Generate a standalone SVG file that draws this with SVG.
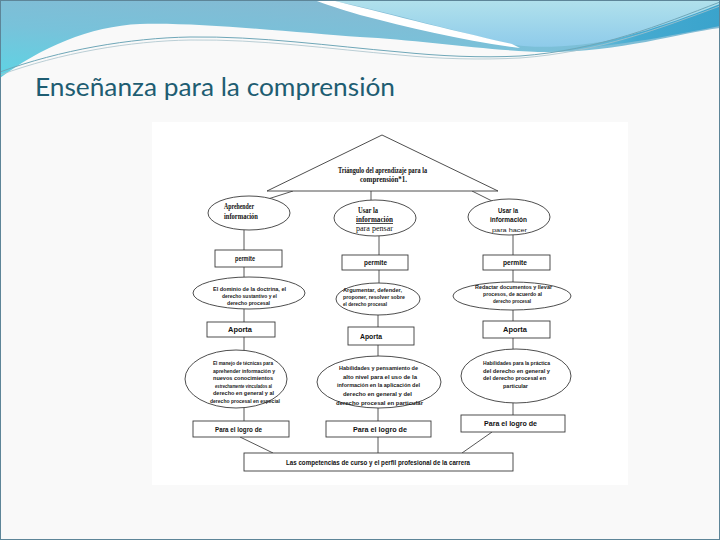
<svg xmlns="http://www.w3.org/2000/svg" width="720" height="540" viewBox="0 0 720 540">
<defs>
<linearGradient id="band" x1="0" y1="1" x2="0.6" y2="0">
<stop offset="0" stop-color="#5dd4e4"/>
<stop offset="0.5" stop-color="#78c2da"/>
<stop offset="1" stop-color="#86b9d2"/>
</linearGradient>
<linearGradient id="light" x1="0" y1="0" x2="0" y2="1">
<stop offset="0" stop-color="#b1e1ec"/>
<stop offset="1" stop-color="#8ecbea"/>
</linearGradient>
<linearGradient id="dark" x1="0" y1="0" x2="1" y2="0">
<stop offset="0" stop-color="#5fc0dc" stop-opacity="0.2"/>
<stop offset="0.5" stop-color="#45aad0"/>
<stop offset="1" stop-color="#3aa3cc"/>
</linearGradient>
<style>
.shape{fill:#ffffff;stroke:#3a3a3a;stroke-width:0.9}
.conn{stroke:#444;stroke-width:0.9;fill:none}
.ser{font-family:"Liberation Serif",serif;font-weight:bold;font-size:7.5px;fill:#111}
.sn{font-family:"Liberation Sans",Arial,sans-serif;font-weight:bold;font-size:6px;fill:#1a1a1a}
.lb{font-family:"Liberation Sans",Arial,sans-serif;font-weight:bold;font-size:6.5px;fill:#111}
.m{text-anchor:middle}
.nw{font-weight:normal}
</style>
</defs>
<rect x="0" y="0" width="720" height="540" fill="#f9f9f9"/>
<g id="header">
<path d="M0,0 H720 V28 C680,33 620,52 547,52 C500,52 420,40 360,37 C300,33 200,22 140,24 C90,26 40,48 0,78 Z" fill="url(#band)"/>
<path d="M330,0 C400,15 460,33 515,45 C560,52 650,38 720,12 V0 Z" fill="url(#light)"/>
<path d="M314,0 L331,0 C380,12 450,30 512,44 L520,48 C470,42 410,28 360,15 C340,9 325,4 314,0 Z" fill="#ffffff"/>
<path d="M555,51 C620,42 680,20 720,4 V26 C680,34 620,46 555,51 Z" fill="url(#dark)"/>
<path d="M0,72 C60,50 130,38 190,37 C260,36 330,46 400,52 C440,56 480,58 520,56 C600,50 660,25 720,2" fill="none" stroke="#6fa7b8" stroke-width="1"/>
<path d="M0,75 C60,53 130,41 190,40 C260,39 330,49 400,55 C440,59 480,60 520,58 C600,52 660,28 720,6" fill="none" stroke="#a9c3cb" stroke-width="0.8"/>
</g>
<rect x="0.5" y="0.5" width="719" height="539" fill="none" stroke="#5d8598" stroke-width="1"/>
<text x="35" y="96" font-family="Lato,'Open Sans',sans-serif" font-size="25" fill="#1e5d72" textLength="360" lengthAdjust="spacingAndGlyphs">Enseñanza para la comprensión</text>
<rect x="152" y="122" width="476" height="363" fill="#ffffff"/>
<g id="connectors">
<line class="conn" x1="293" y1="191" x2="268" y2="199"/>
<line class="conn" x1="371" y1="191" x2="371" y2="200"/>
<line class="conn" x1="472" y1="191" x2="492" y2="201"/>
<line class="conn" x1="244" y1="230" x2="244" y2="250"/>
<line class="conn" x1="244" y1="267" x2="244" y2="277"/>
<line class="conn" x1="244" y1="309" x2="244" y2="322"/>
<line class="conn" x1="244" y1="337" x2="244" y2="350"/>
<line class="conn" x1="244" y1="408" x2="244" y2="421"/>
<line class="conn" x1="379" y1="236" x2="379" y2="255"/>
<line class="conn" x1="379" y1="270" x2="379" y2="283"/>
<line class="conn" x1="378" y1="315" x2="378" y2="327"/>
<line class="conn" x1="378" y1="345" x2="378" y2="356"/>
<line class="conn" x1="378" y1="408" x2="378" y2="421"/>
<line class="conn" x1="378" y1="437" x2="378" y2="453"/>
<line class="conn" x1="513" y1="235" x2="513" y2="255"/>
<line class="conn" x1="513" y1="270" x2="513" y2="282"/>
<line class="conn" x1="513" y1="310" x2="513" y2="321"/>
<line class="conn" x1="513" y1="338" x2="513" y2="349"/>
<line class="conn" x1="513" y1="403" x2="513" y2="415"/>
<line class="conn" x1="240" y1="437" x2="273" y2="453"/>
<line class="conn" x1="492" y1="432" x2="462" y2="453"/>
</g>
<g id="triangulo">
<polygon class="shape" points="382,135 267,191 498,191"/>
<text class="ser m" x="382.5" y="173" font-size="7" textLength="89" lengthAdjust="spacingAndGlyphs">Triángulo del aprendizaje para la</text>
<text class="ser m" x="383.5" y="182" font-size="7" textLength="47" lengthAdjust="spacingAndGlyphs">comprensión*1.</text>
</g>
<g id="aprehender">
<ellipse class="shape" cx="249" cy="213" rx="41" ry="17"/>
<text class="ser" x="224" y="209" textLength="30" lengthAdjust="spacingAndGlyphs">Aprehender</text>
<text class="ser" x="224" y="219" textLength="34" lengthAdjust="spacingAndGlyphs">información</text>
</g>
<g id="usar-pensar">
<ellipse class="shape" cx="375" cy="218" rx="41" ry="18"/>
<text class="ser m" x="368" y="213" textLength="20" lengthAdjust="spacingAndGlyphs">Usar la</text>
<text class="ser m" x="374.5" y="222" textLength="37" lengthAdjust="spacingAndGlyphs" text-decoration="underline">información</text>
<text class="ser m nw" x="374.5" y="231" textLength="37" lengthAdjust="spacingAndGlyphs">para pensar</text>
</g>
<g id="usar-hacer">
<ellipse class="shape" cx="509" cy="217" rx="41" ry="18"/>
<text class="lb m" x="508" y="213" textLength="20" lengthAdjust="spacingAndGlyphs">Usar la</text>
<text class="lb m" x="508.5" y="222" textLength="37" lengthAdjust="spacingAndGlyphs">información</text>
<text class="sn m nw" x="509.5" y="232" font-size="6.5" textLength="35" lengthAdjust="spacingAndGlyphs">para hacer</text>
</g>
<g id="permite-1">
<rect class="shape" x="215" y="250" width="67" height="17"/>
<text class="lb m" x="245" y="261" textLength="20" lengthAdjust="spacingAndGlyphs">permite</text>
</g>
<g id="permite-2">
<rect class="shape" x="342" y="255" width="66" height="15"/>
<text class="lb m" x="375.5" y="264.5" textLength="23" lengthAdjust="spacingAndGlyphs">permite</text>
</g>
<g id="permite-3">
<rect class="shape" x="483" y="255" width="67" height="15"/>
<text class="lb m" x="515" y="264.5" textLength="24" lengthAdjust="spacingAndGlyphs">permite</text>
</g>
<g id="dominio">
<ellipse class="shape" cx="249" cy="293" rx="56" ry="16"/>
<text class="sn m" x="249.5" y="291" textLength="73" lengthAdjust="spacingAndGlyphs">El dominio de la doctrina, el</text>
<text class="sn m" x="249.5" y="298" textLength="55" lengthAdjust="spacingAndGlyphs">derecho sustantivo y el</text>
<text class="sn m" x="248.5" y="305" textLength="43" lengthAdjust="spacingAndGlyphs">derecho procesal</text>
</g>
<g id="argumentar">
<ellipse class="shape" cx="378" cy="299" rx="42" ry="16"/>
<text class="sn" x="343" y="292" textLength="59" lengthAdjust="spacingAndGlyphs">Argumentar, defender,</text>
<text class="sn" x="343" y="299" textLength="62" lengthAdjust="spacingAndGlyphs">proponer, resolver sobre</text>
<text class="sn" x="343" y="306" textLength="44" lengthAdjust="spacingAndGlyphs">el derecho procesal</text>
</g>
<g id="redactar">
<ellipse class="shape" cx="512" cy="296" rx="59" ry="14"/>
<text class="sn m" x="513.5" y="289" textLength="77" lengthAdjust="spacingAndGlyphs">Redactar documentos y llevar</text>
<text class="sn m" x="512.5" y="296" textLength="59" lengthAdjust="spacingAndGlyphs">procesos, de acuerdo al</text>
<text class="sn m" x="512" y="303" textLength="38" lengthAdjust="spacingAndGlyphs">derecho procesal</text>
</g>
<g id="aporta-1">
<rect class="shape" x="207" y="322" width="68" height="15"/>
<text class="lb m" x="240" y="332" textLength="24" lengthAdjust="spacingAndGlyphs">Aporta</text>
</g>
<g id="aporta-2">
<rect class="shape" x="348" y="327" width="66" height="18"/>
<text class="lb m" x="371" y="338.5" textLength="22" lengthAdjust="spacingAndGlyphs">Aporta</text>
</g>
<g id="aporta-3">
<rect class="shape" x="483" y="321" width="67" height="17"/>
<text class="lb m" x="515" y="331.5" textLength="24" lengthAdjust="spacingAndGlyphs">Aporta</text>
</g>
<g id="manejo">
<ellipse class="shape" cx="236" cy="379" rx="51" ry="29"/>
<text class="sn m" x="243" y="365" textLength="60" lengthAdjust="spacingAndGlyphs">El manejo de técnicas para</text>
<text class="sn m" x="244" y="372.5" textLength="62" lengthAdjust="spacingAndGlyphs">aprehender información y</text>
<text class="sn m" x="243" y="380" textLength="60" lengthAdjust="spacingAndGlyphs">nuevos conocimientos</text>
<text class="sn m" x="243.5" y="387.5" textLength="57" lengthAdjust="spacingAndGlyphs">estrechamente vinculados al</text>
<text class="sn m" x="243.5" y="395" textLength="61" lengthAdjust="spacingAndGlyphs">derecho en general y al</text>
<text class="sn m" x="245" y="402.5" textLength="70" lengthAdjust="spacingAndGlyphs">derecho procesal en especial</text>
</g>
<g id="habilidades-pensamiento">
<ellipse class="shape" cx="379" cy="382" rx="62" ry="26"/>
<text class="sn m" x="378.5" y="370" textLength="79" lengthAdjust="spacingAndGlyphs">Habilidades y pensamiento de</text>
<text class="sn m" x="380" y="378.5" textLength="74" lengthAdjust="spacingAndGlyphs">alto nivel para el uso de la</text>
<text class="sn m" x="378.5" y="387" textLength="83" lengthAdjust="spacingAndGlyphs">información en la aplicación del</text>
<text class="sn m" x="377.5" y="395.5" textLength="69" lengthAdjust="spacingAndGlyphs">derecho en general y del</text>
<text class="sn m" x="379.5" y="404.5" textLength="87" lengthAdjust="spacingAndGlyphs">derecho procesal en particular</text>
</g>
<g id="habilidades-practica">
<ellipse class="shape" cx="516" cy="376" rx="55" ry="27"/>
<text class="sn m" x="516.5" y="365" textLength="67" lengthAdjust="spacingAndGlyphs">Habilidades para la práctica</text>
<text class="sn m" x="516.5" y="372.5" textLength="67" lengthAdjust="spacingAndGlyphs">del derecho en general y</text>
<text class="sn m" x="514.5" y="380" textLength="63" lengthAdjust="spacingAndGlyphs">del derecho procesal en</text>
<text class="sn m" x="515.5" y="387.5" textLength="25" lengthAdjust="spacingAndGlyphs">particular</text>
</g>
<g id="logro-1">
<rect class="shape" x="193" y="421" width="96" height="16"/>
<text class="lb m" x="238.5" y="431.5" textLength="47" lengthAdjust="spacingAndGlyphs">Para el logro de</text>
</g>
<g id="logro-2">
<rect class="shape" x="326" y="421" width="105" height="16"/>
<text class="lb m" x="380" y="431.5" textLength="54" lengthAdjust="spacingAndGlyphs">Para el logro de</text>
</g>
<g id="logro-3">
<rect class="shape" x="461" y="415" width="104" height="17"/>
<text class="lb m" x="510.5" y="425.5" textLength="53" lengthAdjust="spacingAndGlyphs">Para el logro de</text>
</g>
<g id="competencias">
<rect class="shape" x="244" y="453" width="269" height="18"/>
<text class="lb m" x="378" y="464.5" textLength="184" lengthAdjust="spacingAndGlyphs">Las competencias de curso y el perfil profesional de la carrera</text>
</g>
</svg>
